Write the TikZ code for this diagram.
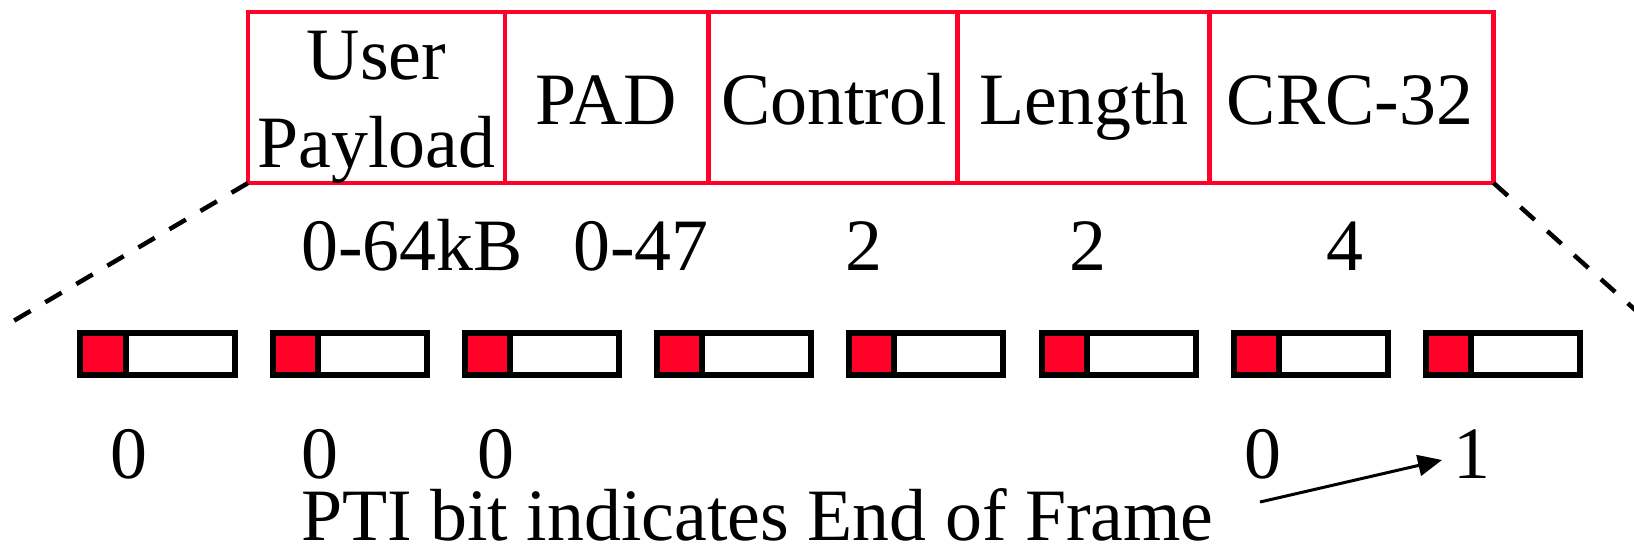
\documentclass[tikz,border=0pt]{standalone}
\usepackage{fontspec}
\setmainfont{Liberation Serif}
\usepackage{tikz}
\usetikzlibrary{positioning,arrows.meta}
\definecolor{ptired}{RGB}{255,0,40}

\begin{document}
\begin{tikzpicture}[x=0.01cm,y=-0.01cm,
		every node/.style={inner sep=0pt,outer sep=0pt,font=\fontsize{21}{25}\selectfont},
		field/.style={draw=ptired,line width=0.048cm,minimum height=1.71cm},
		bitcell/.style={draw=black,line width=0.06cm,minimum height=0.42cm},
		zoomline/.style={line width=0.045cm,dash pattern=on 0.19cm off 0.17cm}]
		\useasboundingbox (0,0) rectangle (1634,547);

		%frame fields
		\node[field,minimum width=2.57cm] (f1) at (376.5,97.5) {};
		\node[field,minimum width=2.03cm,right=0pt of f1] (f2) {};
		\node[field,minimum width=2.49cm,right=0pt of f2] (f3) {};
		\node[field,minimum width=2.52cm,right=0pt of f3] (f4) {};
		\node[field,minimum width=2.84cm,right=0pt of f4] (f5) {};

		%field names
		\node[align=center,anchor=north] (t1) at (376.5,31) {User\\Payload};
		\node[anchor=base] (t2) at (606,124) {PAD};
		\node[anchor=base] (t3) at (834,124) {Control};
		\node[anchor=base] (t4) at (1084,124) {Length};
		\node[anchor=base] (t5) at (1350,124) {CRC-32};

		%field sizes
		\node[anchor=base] (s1) at (412,270) {0-64kB};
		\node[anchor=base] (s2) at (641,270) {0-47};
		\node[anchor=base] (s3) at (864,270) {2};
		\node[anchor=base] (s4) at (1088,270) {2};
		\node[anchor=base] (s5) at (1345,270) {4};

		%cells
		\foreach \i in {0,...,7}{
			\node[bitcell,fill=ptired,minimum width=0.45cm] (r\i) at ({103+192.2*\i},354) {};
			\node[bitcell,fill=white,minimum width=1.09cm,right=0pt of r\i] (w\i) {};
		}

		%bit values
		\node[anchor=base] (b0) at (129,478) {0};
		\node[anchor=base] (b1) at (320,478) {0};
		\node[anchor=base] (b2) at (496,478) {0};
		\node[anchor=base] (b6) at (1263,478) {0};
		\node[anchor=base] (b7) at (1472,478) {1};
		\node[anchor=base west] (pti) at (301,540) {PTI bit indicates End of Frame};

		%zoom lines
		\coordinate (lend) at (10,323);
		\coordinate (rend) at (1642,316);
		\draw[zoomline] (f1.south west) -- (lend);
		\draw[zoomline] (f5.south east) -- (rend);

		%arrow
		\coordinate (astart) at (1260,502);
		\coordinate (atip) at (1442,460);
		\draw[line width=0.03cm,-{Triangle[length=0.24cm,width=0.21cm]}] (astart) -- (atip);
	\end{tikzpicture}
\end{document}
